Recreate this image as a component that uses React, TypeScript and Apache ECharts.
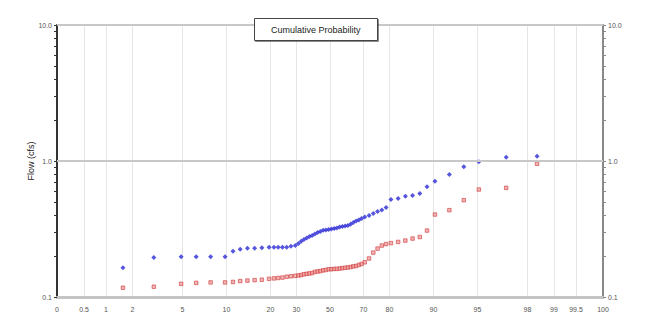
import React, { useEffect, useRef } from "react";
import * as echarts from "echarts";

// Probability-paper axis: tick labels (percent) and where each sits on the axis (-1 … 1, 50 % centred)
const PROB_TICKS = [0, 0.5, 1, 2, 5, 10, 20, 30, 50, 70, 80, 90, 95, 98, 99, 99.5, 100];
const PAPER_POS = [
  -1, -0.901, -0.8205, -0.7234, -0.5403, -0.3791, -0.2179, -0.1227, 0,
  0.1227, 0.2179, 0.3791, 0.5403, 0.7234, 0.8205, 0.901, 1,
];

// Flow axis (log scale) labels and minor tick values
const FLOW_LABELS = [0.1, 1, 10];
const FLOW_TICKS = [
  0.1, 0.2, 0.3, 0.4, 0.5, 0.6, 0.7, 0.8, 0.9,
  1, 2, 3, 4, 5, 6, 7, 8, 9, 10,
];

// Flow observations (cfs)
const FLOW_BLUE = [
  0.164, 0.195, 0.198, 0.198, 0.198, 0.198, 0.217, 0.224, 0.228, 0.228,
  0.23, 0.232, 0.232, 0.232, 0.232, 0.232, 0.236, 0.239, 0.247, 0.257,
  0.265, 0.272, 0.279, 0.283, 0.29, 0.298, 0.303, 0.309, 0.311, 0.314,
  0.316, 0.319, 0.322, 0.327, 0.33, 0.333, 0.336, 0.342, 0.353, 0.362,
  0.368, 0.378, 0.387, 0.397, 0.411, 0.425, 0.436, 0.455, 0.521, 0.53,
  0.551, 0.558, 0.577, 0.646, 0.71, 0.796, 0.906, 0.987, 1.066, 1.085,
];
const FLOW_RED = [
  0.117, 0.119, 0.125, 0.127, 0.128, 0.128, 0.129, 0.131, 0.132, 0.133,
  0.134, 0.136, 0.137, 0.138, 0.139, 0.141, 0.142, 0.143, 0.144, 0.145,
  0.147, 0.148, 0.149, 0.15, 0.153, 0.154, 0.155, 0.157, 0.158, 0.16,
  0.16, 0.161, 0.161, 0.162, 0.163, 0.164, 0.165, 0.166, 0.168, 0.169,
  0.172, 0.175, 0.18, 0.192, 0.212, 0.227, 0.239, 0.245, 0.249, 0.254,
  0.26, 0.269, 0.276, 0.308, 0.404, 0.435, 0.515, 0.617, 0.635, 0.954,
];

const FONT = "'Liberation Sans', Arial, sans-serif";

// percent -> position on the probability paper
function toPaper(p: number): number {
  for (let k = 1; k < PROB_TICKS.length; k++) {
    if (p <= PROB_TICKS[k]) {
      const t = (p - PROB_TICKS[k - 1]) / (PROB_TICKS[k] - PROB_TICKS[k - 1]);
      return PAPER_POS[k - 1] + t * (PAPER_POS[k] - PAPER_POS[k - 1]);
    }
  }
  return 1;
}

// Weibull plotting positions i/(n+1) of the ranked values
function cumulative(values: number[]): number[][] {
  const sorted = [...values].sort((a, b) => a - b);
  const n = sorted.length;
  return sorted.map((v, i) => [toPaper(((i + 1) / (n + 1)) * 100), v]);
}

function tickLabel(v: number): string {
  let best = 0;
  for (let k = 1; k < PAPER_POS.length; k++) {
    if (Math.abs(PAPER_POS[k] - v) < Math.abs(PAPER_POS[best] - v)) best = k;
  }
  return String(PROB_TICKS[best]);
}

const flowAxis = (side: "left" | "right", lineColor: string) => ({
  type: "log" as const,
  logBase: 10,
  min: 0.1,
  max: 10,
  position: side,
  name: side === "left" ? "Flow (cfs)" : "",
  nameLocation: "middle" as const,
  nameGap: 22,
  nameMoveOverlap: false,
  nameTextStyle: { fontFamily: FONT, fontSize: 9, color: "#222" },
  axisLine: { show: true, onZero: false, lineStyle: { color: lineColor, width: 2 } },
  axisTick: {
    show: true,
    length: 3,
    customValues: FLOW_TICKS,
    lineStyle: { color: lineColor, width: 1 },
  },
  axisLabel: {
    customValues: FLOW_LABELS,
    formatter: (v: number) => v.toFixed(1),
    fontFamily: FONT,
    fontSize: 7,
    color: "#555",
    margin: 5,
  },
  splitLine: { show: false },
});

export default function App() {
  const ref = useRef<HTMLDivElement>(null);

  useEffect(() => {
    if (!ref.current) return;
    const chart = echarts.init(ref.current, undefined, { renderer: "svg" });
    chart.setOption({
      animation: false,
      backgroundColor: "#fff",
      title: {
        text: "Cumulative Probability",
        left: 254,
        top: 18,
        padding: [7, 17],
        borderColor: "#444",
        borderWidth: 1,
        backgroundColor: "#fff",
        shadowColor: "rgba(0,0,0,0.45)",
        shadowBlur: 1,
        shadowOffsetX: 1,
        shadowOffsetY: 1,
        textStyle: { fontFamily: FONT, fontSize: 9, fontWeight: "normal", color: "#222" },
      },
      grid: { left: 57, right: 44, top: 25, bottom: 25 },
      xAxis: {
        type: "value",
        min: -1,
        max: 1,
        axisLine: { show: true, onZero: false, lineStyle: { color: "#c4c4c4", width: 3 } },
        axisTick: { show: false, customValues: PAPER_POS },
        axisLabel: {
          customValues: PAPER_POS,
          formatter: (v: number) => tickLabel(v),
          fontFamily: FONT,
          fontSize: 7,
          color: "#555",
          margin: 9,
        },
        splitLine: { show: true, lineStyle: { color: "#e6e6e6", width: 1 } },
      },
      yAxis: [flowAxis("left", "#333"), flowAxis("right", "#888")],
      series: [
        {
          name: "Series 1",
          type: "scatter",
          data: cumulative(FLOW_BLUE),
          symbol: "diamond",
          symbolSize: 5,
          itemStyle: { color: "#2b2bd6" },
          markLine: {
            silent: true,
            symbol: "none",
            label: { show: false },
            lineStyle: { color: "#c8c8c8", width: 2, type: "solid" },
            data: [{ yAxis: 1 }, { yAxis: 10 }],
          },
          z: 3,
        },
        {
          name: "Series 2",
          type: "scatter",
          data: cumulative(FLOW_RED),
          symbol: "rect",
          symbolSize: 3.5,
          itemStyle: { color: "rgba(235,140,140,0.8)", borderColor: "#d23c3c", borderWidth: 0.8 },
          z: 2,
        },
      ],
    });
    return () => chart.dispose();
  }, []);

  return (
    <div
      ref={ref}
      style={{ position: "fixed", left: 0, top: 0, width: 647, height: 322 }}
    />
  );
}
